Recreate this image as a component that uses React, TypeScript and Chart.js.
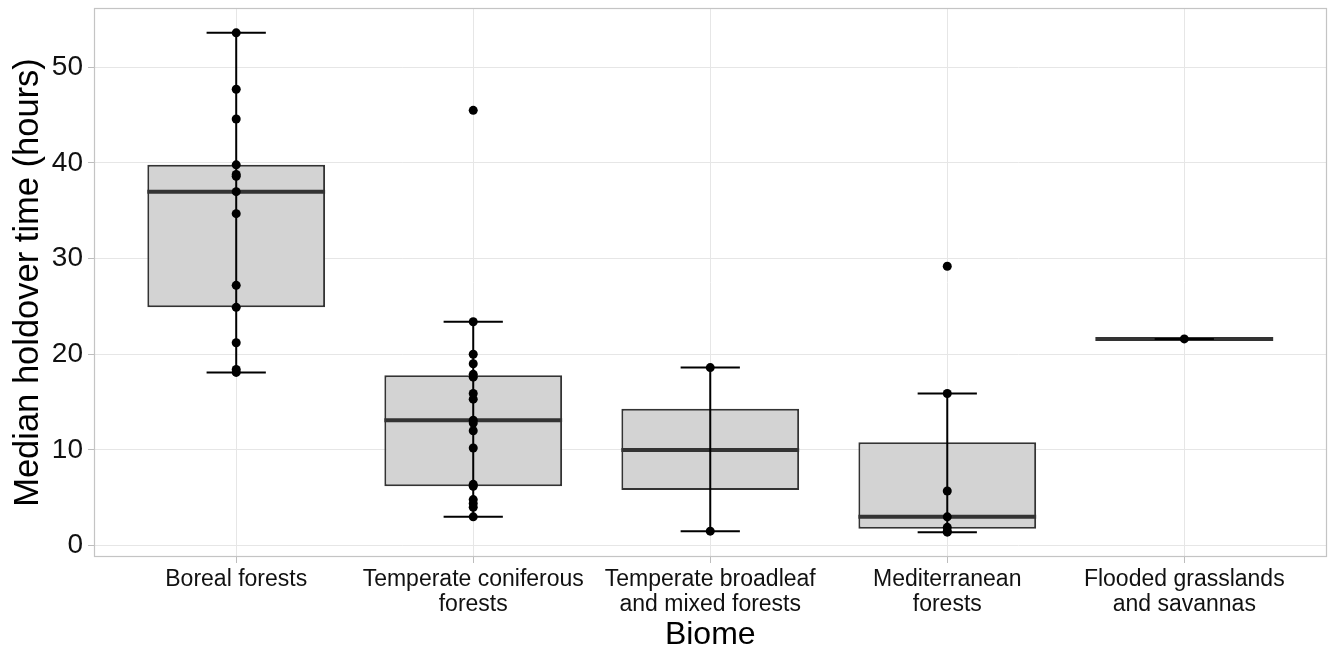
import React, { useEffect, useRef } from "react";
import { Chart, registerables } from "chart.js";

Chart.register(...registerables);

// ---- data ----
const categoryLabels: string[][] = [
  ["Boreal forests"],
  ["Temperate coniferous", "forests"],
  ["Temperate broadleaf", "and mixed forests"],
  ["Mediterranean", "forests"],
  ["Flooded grasslands", "and savannas"],
];
const categoryIndex = [1, 2, 3, 4, 5];

const q1 = [24.9, 6.2, 5.8, 1.75, 21.6];
const medians = [37.0, 13.1, 10.0, 3.0, 21.6];
const q3 = [39.8, 17.8, 14.3, 10.8, 21.6];
const whiskerLow = [18.1, 3.0, 1.5, 1.4, 21.6];
const whiskerHigh = [53.6, 23.4, 18.6, 15.9, 21.6];

const borealPoints = [53.6, 47.7, 44.6, 39.8, 38.8, 38.6, 37.0, 34.7, 27.2, 24.9, 21.2, 18.4, 18.1];
const coniferousPoints = [45.5, 23.4, 20.0, 19.0, 17.9, 17.6, 15.9, 15.3, 13.1, 12.8, 12.0, 10.2, 6.4, 6.2, 4.8, 4.4, 4.0, 3.0];
const broadleafPoints = [18.6, 1.5];
const mediterraneanPoints = [29.2, 15.9, 5.7, 3.0, 1.9, 1.5, 1.4];
const floodedPoints = [21.6];
const pointsByCategory = [borealPoints, coniferousPoints, broadleafPoints, mediterraneanPoints, floodedPoints];

const yTicks = [0, 10, 20, 30, 40, 50];
const yMin = -1.2;
const yMax = 56.2;

const yTitle = "Median holdover time (hours)";
const xTitle = "Biome";

// ---- style ----
const FONT = "'Liberation Sans', Arial, sans-serif";
const BOX_HALF = 0.375;
const CAP_HALF = 0.125;

const boxExtras = {
  id: "boxExtras",
  afterDatasetDraw(chart: any, args: any) {
    if (args.meta.type !== "bar") return;
    const { ctx } = chart;
    const x = chart.scales.x;
    const y = chart.scales.y;
    ctx.save();
    // medians
    ctx.strokeStyle = "#333333";
    ctx.lineWidth = 4;
    ctx.lineCap = "butt";
    categoryIndex.forEach((c, i) => {
      const py = y.getPixelForValue(medians[i]);
      ctx.beginPath();
      ctx.moveTo(x.getPixelForValue(c - BOX_HALF), py);
      ctx.lineTo(x.getPixelForValue(c + BOX_HALF), py);
      ctx.stroke();
    });
    // error bars
    ctx.strokeStyle = "#000000";
    ctx.lineWidth = 2;
    categoryIndex.forEach((c, i) => {
      const px = x.getPixelForValue(c);
      const lo = y.getPixelForValue(whiskerLow[i]);
      const hi = y.getPixelForValue(whiskerHigh[i]);
      ctx.beginPath();
      ctx.moveTo(px, lo);
      ctx.lineTo(px, hi);
      ctx.moveTo(x.getPixelForValue(c - CAP_HALF), lo);
      ctx.lineTo(x.getPixelForValue(c + CAP_HALF), lo);
      ctx.moveTo(x.getPixelForValue(c - CAP_HALF), hi);
      ctx.lineTo(x.getPixelForValue(c + CAP_HALF), hi);
      ctx.stroke();
    });
    ctx.restore();
  },
  afterDraw(chart: any) {
    const { ctx, chartArea } = chart;
    ctx.save();
    ctx.strokeStyle = "#C4C4C4";
    ctx.lineWidth = 1.2;
    ctx.strokeRect(chartArea.left + 0.5, chartArea.top + 0.5, chartArea.right - chartArea.left - 0.5, chartArea.bottom - chartArea.top - 1);
    ctx.restore();
  },
};

export default function App() {
  const canvasRef = useRef<HTMLCanvasElement | null>(null);

  useEffect(() => {
    document.body.style.margin = "0";
    const canvas = canvasRef.current;
    if (!canvas) return;

    const pointData: { x: number; y: number }[] = [];
    pointsByCategory.forEach((arr, i) => arr.forEach((v) => pointData.push({ x: categoryIndex[i], y: v })));

    const boxData = categoryIndex.map((c, i) => ({ x: c, y: [q1[i], q3[i]] }));

    const chart = new Chart(canvas, {
      type: "bar",
      data: {
        datasets: [
          {
            type: "scatter",
            data: pointData,
            backgroundColor: "#000000",
            borderColor: "#000000",
            pointRadius: 4.5,
            pointBorderWidth: 0,
            order: 1,
          } as any,
          {
            type: "bar",
            data: boxData as any,
            backgroundColor: "#D3D3D3",
            borderColor: "#333333",
            borderWidth: 2,
            borderSkipped: false,
            barPercentage: 0.75,
            categoryPercentage: 1,
            order: 2,
          } as any,
        ],
      },
      options: {
        responsive: false,
        animation: false,
        devicePixelRatio: 1,
        layout: { padding: { top: 8, right: 2, left: 0, bottom: 0 } },
        plugins: { legend: { display: false }, tooltip: { enabled: false } },
        scales: {
          x: {
            type: "linear",
            min: 0.4,
            max: 5.6,
            offset: false,
            afterBuildTicks: (scale: any) => {
              scale.ticks = categoryIndex.map((v) => ({ value: v }));
            },
            afterFit: (scale: any) => {
              scale.height = 96;
              scale.paddingLeft = 0;
              scale.paddingRight = 0;
            },
            ticks: {
              autoSkip: false,
              maxRotation: 0,
              minRotation: 0,
              padding: 4,
              color: "#111111",
              font: { family: FONT, size: 23, lineHeight: 1.1 },
              callback: (v: any) => categoryLabels[Math.round(v) - 1] || "",
            },
            grid: { color: "#E6E6E6", lineWidth: 1, tickColor: "#BDBDBD", tickLength: 6, offset: false },
            border: { display: false },
            title: {
              display: true,
              text: xTitle,
              color: "#000000",
              font: { family: FONT, size: 32, lineHeight: 1 },
              padding: { top: 0, bottom: 2 },
            },
          },
          y: {
            type: "linear",
            min: yMin,
            max: yMax,
            afterBuildTicks: (scale: any) => {
              scale.ticks = yTicks.map((v) => ({ value: v }));
            },
            afterFit: (scale: any) => {
              scale.width = 94;
              scale.paddingTop = 0;
              scale.paddingBottom = 0;
            },
            ticks: {
              padding: 5,
              color: "#111111",
              font: { family: FONT, size: 28 },
            },
            grid: { color: "#E6E6E6", lineWidth: 1, tickColor: "#BDBDBD", tickLength: 6 },
            border: { display: false },
            title: {
              display: true,
              text: yTitle,
              color: "#000000",
              font: { family: FONT, size: 34.5, lineHeight: 1 },
              padding: { top: 11, bottom: 0 },
            },
          },
        },
      } as any,
      plugins: [boxExtras],
    });

    return () => chart.destroy();
  }, []);

  return (
    <div style={{ width: 1331, height: 653 }}>
      <canvas ref={canvasRef} width={1331} height={653} style={{ display: "block" }} />
    </div>
  );
}
